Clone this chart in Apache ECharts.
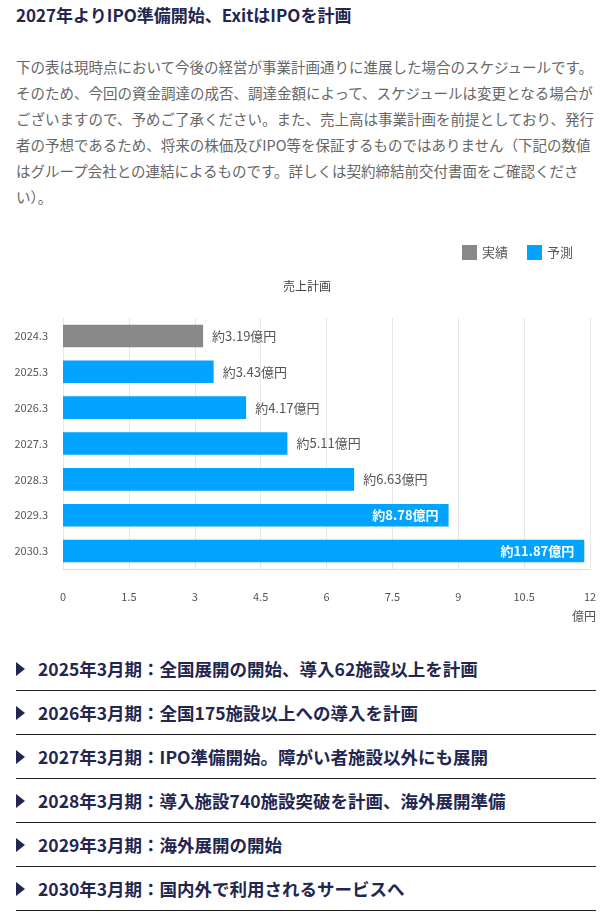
<!DOCTYPE html>
<html><head><meta charset="utf-8">
<script src="https://cdn.jsdelivr.net/npm/echarts@6/dist/echarts.min.js"></script>
<style>
html,body{margin:0;padding:0;background:#fff;width:614px;height:924px;overflow:hidden;font-family:"Noto Sans CJK JP","Noto Sans",sans-serif;}
#title{position:absolute;left:16px;top:4px;font-size:17px;line-height:22px;font-weight:bold;color:#232650;white-space:nowrap;}
#para{position:absolute;left:16px;top:54px;width:590px;font-size:14.5px;line-height:26px;color:#666;white-space:nowrap;}
#chart{position:absolute;left:0;top:230px;width:614px;height:400px;}
#list{position:absolute;left:16px;top:647px;width:580px;margin:0;padding:0;list-style:none;}
#list li{height:43px;line-height:43px;border-bottom:1px solid #222;font-size:17.5px;font-weight:bold;color:#232650;position:relative;padding-left:22px;white-space:nowrap;}
#list li:before{content:"";position:absolute;left:0;top:15px;border-left:9px solid #232650;border-top:7px solid transparent;border-bottom:7px solid transparent;}
</style></head>
<body>
<div id="title">2027年よりIPO準備開始、ExitはIPOを計画</div>
<div id="para">下の表は現時点において今後の経営が事業計画通りに進展した場合のスケジュールです。<br>そのため、今回の資金調達の成否、調達金額によって、スケジュールは変更となる場合が<br>ございますので、予めご了承ください。また、売上高は事業計画を前提としており、発行<br>者の予想であるため、将来の株価及びIPO等を保証するものではありません（下記の数値<br>はグループ会社との連結によるものです。詳しくは契約締結前交付書面をご確認くださ<br>い）。</div>
<div id="chart"></div>
<ul id="list"></ul>
<script>
const categories = ['2024.3','2025.3','2026.3','2027.3','2028.3','2029.3','2030.3'];
const actualValues = [3.19, null, null, null, null, null, null];
const forecastValues = [null, 3.43, 4.17, 5.11, 6.63, 8.78, 11.87];
const xTicks = [0, 1.5, 3, 4.5, 6, 7.5, 9, 10.5, 12];
const seriesNames = ['実績','予測'];
const chartTitle = '売上計画';
const unitName = '億円';
const milestones = [
  '2025年3月期：全国展開の開始、導入62施設以上を計画',
  '2026年3月期：全国175施設以上への導入を計画',
  '2027年3月期：IPO準備開始。障がい者施設以外にも展開',
  '2028年3月期：導入施設740施設突破を計画、海外展開準備',
  '2029年3月期：海外展開の開始',
  '2030年3月期：国内外で利用されるサービスへ'
];

const ul = document.getElementById('list');
milestones.forEach(t => { const li = document.createElement('li'); li.textContent = t; ul.appendChild(li); });

const insideThreshold = 8;
function mkData(arr){
  return arr.map(v => {
    if (v == null) return null;
    const inside = v >= insideThreshold;
    return {
      value: v,
      label: inside
        ? {position:'insideRight', distance:10, color:'#fff', fontWeight:'bold', fontSize:13}
        : {position:'right', distance:9, color:'#555', fontSize:13}
    };
  });
}
const fmt = p => '約' + p.value + '億円';
const chart = echarts.init(document.getElementById('chart'));
chart.setOption({
  animation:false,
  textStyle:{fontFamily:'"Noto Sans CJK JP","Noto Sans",sans-serif'},
  title:{text:chartTitle, left:'center', top:45, textStyle:{fontSize:12, fontWeight:'normal', color:'#444'}},
  legend:{right:36, top:10, itemWidth:15, itemHeight:15, itemGap:19, icon:'rect', textStyle:{fontSize:13, color:'#555'}, data:seriesNames},
  grid:{left:63, right:24, top:88, bottom:61},
  xAxis:{type:'value', min:xTicks[0], max:xTicks[xTicks.length-1], interval:xTicks[1]-xTicks[0],
    name:unitName, nameLocation:'end', nameGap:6,
    nameTextStyle:{align:'right', verticalAlign:'top', padding:[41,0,0,0], fontSize:12, color:'#555'},
    axisLine:{show:true, lineStyle:{color:'#ddd'}}, axisTick:{show:false},
    axisLabel:{margin:22, fontSize:11, color:'#555'},
    splitLine:{show:true, lineStyle:{color:'#e6e6e6'}}},
  yAxis:{type:'category', data:categories, inverse:true,
    axisLine:{show:false}, axisTick:{show:false},
    axisLabel:{margin:15, fontSize:11, color:'#555'}},
  series:[
    {name:seriesNames[0], type:'bar', stack:'s', barWidth:'63%', itemStyle:{color:'#888888'}, data:mkData(actualValues), label:{show:true, formatter:fmt}},
    {name:seriesNames[1], type:'bar', stack:'s', barWidth:'63%', itemStyle:{color:'#00a3ff'}, data:mkData(forecastValues), label:{show:true, formatter:fmt}}
  ]
});
</script>
</body></html>
